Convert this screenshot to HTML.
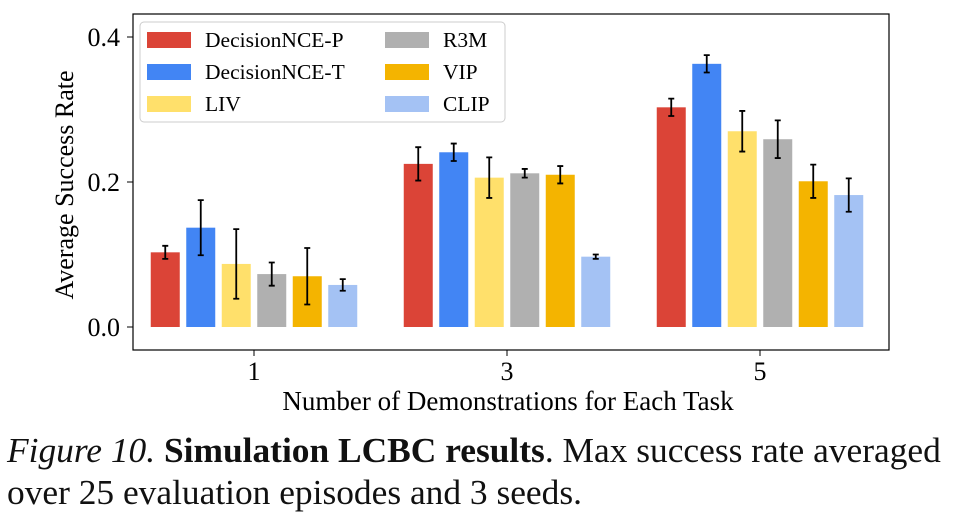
<!DOCTYPE html>
<html><head><meta charset="utf-8"><style>
body{margin:0;background:#fff;width:961px;height:526px;overflow:hidden;font-family:"Liberation Serif",serif}
.cap{position:absolute;left:7px;font-size:35.4px;color:#111;white-space:nowrap;line-height:40px}
</style></head><body>
<svg id="chart" width="961" height="420" style="position:absolute;left:0;top:0" font-family="Liberation Serif, serif"></svg>
<div class="cap" style="top:430px"><i>Figure 10.</i> <b>Simulation LCBC results</b>. Max success rate averaged</div>
<div class="cap" style="top:472px">over 25 evaluation episodes and 3 seeds.</div>
<script>
const categories=["1","3","5"];
const seriesNames=["DecisionNCE-P","DecisionNCE-T","LIV","R3M","VIP","CLIP"];
const colors=["#DB4437","#4285F4","#FFE06B","#B0B0B0","#F4B400","#A4C2F4"];
const values=[[0.103,0.225,0.303],[0.137,0.241,0.363],[0.087,0.206,0.270],[0.073,0.212,0.259],[0.070,0.210,0.201],[0.058,0.097,0.182]];
const errors=[[0.009,0.023,0.012],[0.038,0.012,0.012],[0.048,0.028,0.028],[0.016,0.006,0.026],[0.039,0.012,0.023],[0.008,0.003,0.023]];
const yTicks=[0.0,0.2,0.4];
const NS="http://www.w3.org/2000/svg";
const svg=document.getElementById('chart');
const L=133,R=889,T=14,B=350;
const y=v=>327-v*725;
const groupCenter=i=>254+i*253;
const barW=29,step=35.5;
function mk(t,a,p){const e=document.createElementNS(NS,t);for(const k in a)e.setAttribute(k,a[k]);(p||svg).appendChild(e);return e;}
let fr=mk('rect',{x:L,y:T,width:R-L,height:B-T,fill:'none',stroke:'#000','stroke-width':1.2});


yTicks.forEach(v=>{
 let l=mk('line',{x1:L-6,x2:L,y1:y(v),y2:y(v),stroke:'#000'});
 
 
 let t=mk('text',{x:L-13,y:y(v)+9,'text-anchor':'end','font-size':26});t.textContent=v.toFixed(1);
 
 
});
categories.forEach((c,i)=>{
 let l=mk('line',{x1:groupCenter(i),x2:groupCenter(i),y1:B,y2:B+6,stroke:'#000'});
 
 
 let t=mk('text',{x:groupCenter(i),y:B+30,'text-anchor':'middle','font-size':26});t.textContent=c;
 
 
 seriesNames.forEach((s,j)=>{
  const cx=groupCenter(i)+(j-2.5)*step,v=values[j][i],e=errors[j][i];
  let r=mk('rect',{x:cx-barW/2,y:y(v),width:barW,height:y(0)-y(v),fill:colors[j]});
  
  
  let g=mk('path',{d:`M${cx},${y(v+e)}V${y(v-e)}M${cx-3},${y(v+e)}h6M${cx-3},${y(v-e)}h6`,stroke:'#000','stroke-width':1.8,fill:'none'});
  
  
 });
});
let xt=mk('text',{x:(L+R)/2-3,y:410,'text-anchor':'middle','font-size':27});xt.textContent='Number of Demonstrations for Each Task';


let yt=mk('text',{x:0,y:0,'text-anchor':'middle','font-size':26,transform:`translate(73,${(T+B)/2+3}) rotate(-90)`});yt.textContent='Average Success Rate';


let lb=mk('rect',{x:140,y:22,width:365,height:100,rx:4,fill:'#fff',stroke:'#ccc'});


seriesNames.forEach((s,j)=>{
 const col=Math.floor(j/3),row=j%3;
 const lx=col?385:147,ly=32+row*32;
 let sw=mk('rect',{x:lx,y:ly,width:44,height:16,fill:colors[j]});
 
 
 let t=mk('text',{x:lx+58,y:ly+15,'font-size':21.5});t.textContent=s;
 
 
});
</script>
</body></html>
